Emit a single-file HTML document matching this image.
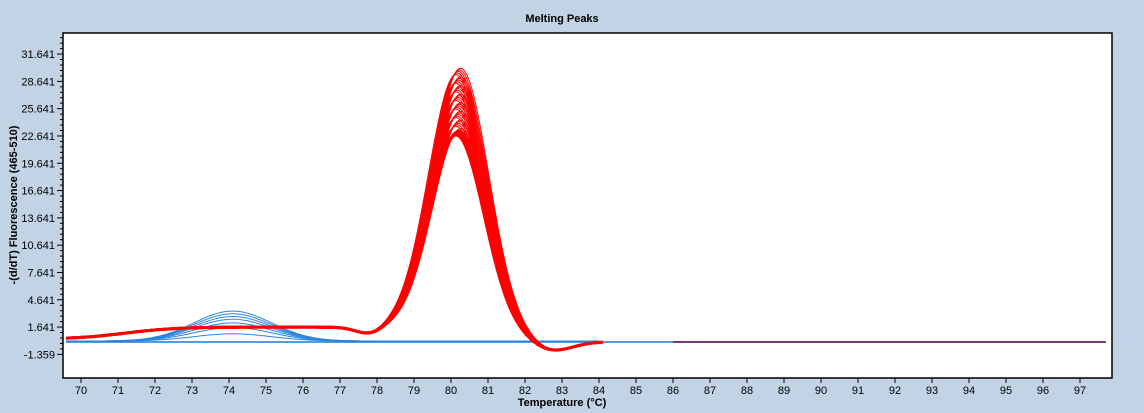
<!DOCTYPE html>
<html><head><style>
body{margin:0;background:#c1d3e4;}
svg{display:block;font-family:"Liberation Sans",sans-serif;}
</style></head><body>
<svg id="s" width="1144" height="413" xmlns="http://www.w3.org/2000/svg">
<rect x="0" y="0" width="1144" height="413" fill="#c1d3e4"/>
<text x="562" y="22" font-size="11" font-weight="bold" text-anchor="middle">Melting Peaks</text>
<rect x="63" y="33" width="1049" height="345" fill="#fff" stroke="#000" stroke-width="1.5"/>
<g id="ax" font-size="11"></g>
<g id="cv" fill="none"></g>
<text x="562" y="406" font-size="11" font-weight="bold" text-anchor="middle">Temperature (°C)</text>
<text transform="translate(17,205) rotate(-90)" font-size="11" font-weight="bold" text-anchor="middle">-(d/dT) Fluorescence (465-510)</text>
</svg>
<script>
const X=t=>81+(t-70)*37, Y=v=>342-v*9.1;
let ax='';
for(let t=70;t<=97;t++){ax+=`<line x1="${X(t)}" y1="378" x2="${X(t)}" y2="383" stroke="#000"/><text x="${X(t)}" y="394" text-anchor="middle">${t}</text>`;}
for(let i=0;i<12;i++){let v=-1.359+3*i;ax+=`<line x1="57" y1="${Y(v)}" x2="63" y2="${Y(v)}" stroke="#000"/><text x="55" y="${Y(v)+4}" text-anchor="end">${v.toFixed(3)}</text>`;
 for(let k=1;k<5;k++){let y=Y(v+0.6*k);if(y>33)ax+=`<line x1="60" y1="${y}" x2="63" y2="${y}" stroke="#000"/>`;}}
document.getElementById('ax').innerHTML=ax;
const sg=z=>1/(1+Math.exp(-z));
let cv='';
function path(f,a,b,st,w){let d='';for(let t=a;t<=b;t+=0.05){d+=(d?'L':'M')+X(t).toFixed(1)+','+Y(f(t)).toFixed(1);}cv+=`<path d="${d}" stroke="${st}" stroke-width="${w}"/>`;}
path(t=>0,69.6,97.7,'#1e7ad8',1.5);
[0.8,1.5,2.0,2.4,2.7,3.0,3.3].forEach((A,i)=>path(t=>0.1+A*Math.exp(-Math.pow(t-74.1,2)/(2*Math.pow(1.05,2))),69.6,84,'#2a86dc',1));
path(t=>0,86,97.7,'#7a3a78',2);
for(let i=0;i<40;i++){let A=22.0+7.4*i/39,c=80.2+0.12*(i%5)/4-0.05;
 path(t=>{let base=0.3+1.35*sg((t-71.2)/0.7);base*=1-0.45*Math.exp(-Math.pow(t-77.8,2)/0.25);base*=1-sg((t-80)/0.8);
 return base+A*Math.exp(-Math.pow(t-c,2)/(2*0.76*0.76))-1.05*Math.exp(-Math.pow(t-82.7,2)/(2*0.55*0.55))*(sg((t-81.9)/0.3))},69.6,84.1,'#ff0000',i<3?3:1);}
document.getElementById('cv').innerHTML=cv;
</script>
</body></html>
